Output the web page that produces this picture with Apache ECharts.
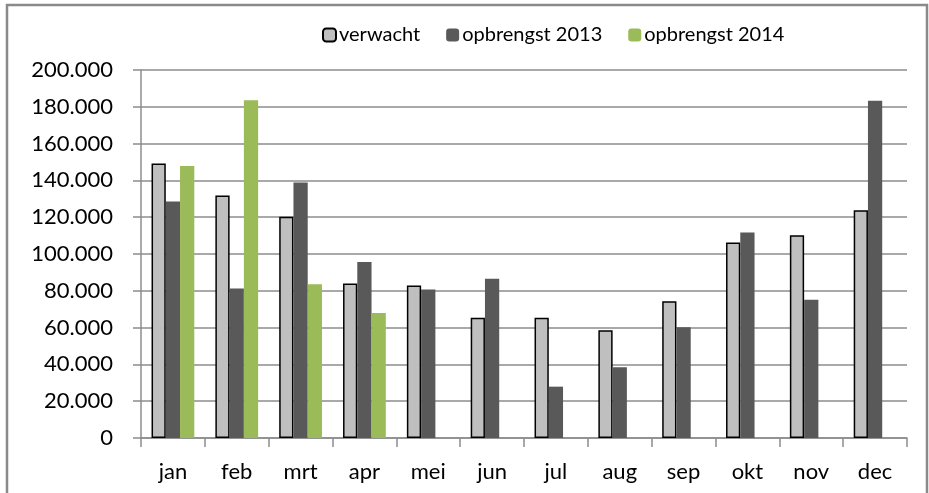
<!DOCTYPE html>
<html>
<head>
<meta charset="utf-8">
<script src="https://cdn.jsdelivr.net/npm/echarts@6/dist/echarts.min.js"></script>
<style>
html,body{margin:0;padding:0;background:#fff;}
#c{width:929px;height:493px;}
</style>
</head>
<body>
<div id="c"></div>
<script>
var categories = ['jan','feb','mrt','apr','mei','jun','jul','aug','sep','okt','nov','dec'];
var verwacht = [149200, 131800, 120200, 84000, 82900, 65300, 65300, 58600, 74300, 106300, 110200, 123800];
var opbrengst2013 = [128600, 81200, 138900, 95700, 80700, 86500, 27900, 38500, 60200, 111700, 75100, 183300];
var opbrengst2014 = [147800, 183500, 83600, 68000, null, null, null, null, null, null, null, null];
var yTicks = { min: 0, max: 200000, interval: 20000 };

var FONT = 'Lato';
var chart = echarts.init(document.getElementById('c'));
chart.setOption({
  animation: false,
  backgroundColor: '#fff',
  textStyle: { fontFamily: FONT },
  graphic: [{
    type: 'rect',
    shape: { x: 7, y: 5, width: 920, height: 500 },
    style: { fill: 'none', stroke: '#8a8a8a', lineWidth: 2.5 },
    silent: true, z: -1
  }],
  legend: {
    left: 317, top: 20,
    itemWidth: 13, itemHeight: 13, itemGap: 26,
    textStyle: { fontFamily: FONT, fontSize: 20, color: '#000', padding: [0,0,0,-2] },
    data: ['verwacht', 'opbrengst 2013', 'opbrengst 2014']
  },
  grid: { left: 141, right: 22, top: 70, bottom: 55 },
  xAxis: {
    type: 'category',
    data: categories,
    axisLine: { lineStyle: { color: '#8c8c8c', width: 1.5 } },
    axisTick: { show: true, length: 9, lineStyle: { color: '#8c8c8c', width: 1.5 } },
    axisLabel: { fontFamily: FONT, fontSize: 22, color: '#000', margin: 23 }
  },
  yAxis: {
    type: 'value',
    min: yTicks.min, max: yTicks.max, interval: yTicks.interval,
    axisLine: { show: true, lineStyle: { color: '#8c8c8c', width: 1.5 } },
    axisTick: { show: true, length: 8, lineStyle: { color: '#8c8c8c', width: 1.5 } },
    splitLine: { lineStyle: { color: '#8c8c8c', width: 1.5 } },
    axisLabel: {
      fontFamily: FONT, fontSize: 22, color: '#000', margin: 28,
      formatter: function (v) { return v === 0 ? '0' : String(v).replace(/\B(?=(\d{3})+(?!\d))/g, '.'); }
    }
  },
  series: [
    { name: 'verwacht', type: 'bar', data: verwacht, barGap: '0%', barCategoryGap: '33%',
      itemStyle: { color: '#BFBFBF', borderColor: '#000', borderWidth: 1.5 } },
    { name: 'opbrengst 2013', type: 'bar', data: opbrengst2013, barGap: '0%', barCategoryGap: '33%',
      itemStyle: { color: '#595959' } },
    { name: 'opbrengst 2014', type: 'bar', data: opbrengst2014, barGap: '0%', barCategoryGap: '33%',
      itemStyle: { color: '#9BBB59' } }
  ]
});
</script>
</body>
</html>
